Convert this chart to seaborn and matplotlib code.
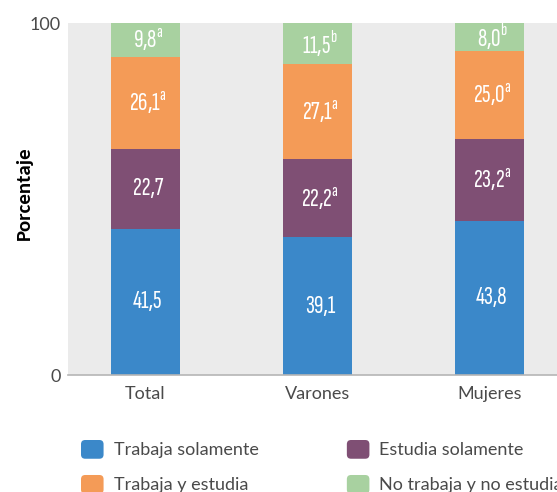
import numpy as np
import pandas as pd
import matplotlib
matplotlib.use('Agg')
import matplotlib.pyplot as plt
import seaborn as sns
from matplotlib.container import BarContainer
from matplotlib.legend_handler import HandlerBase
from matplotlib.patches import FancyBboxPatch

# datos
grupos = ['Total', 'Varones', 'Mujeres']
trabaja_solamente = [41.5, 39.1, 43.8]
estudia_solamente = [22.7, 22.2, 23.2]
trabaja_y_estudia = [26.1, 27.1, 25.0]
no_trabaja_no_estudia = [9.8, 11.5, 8.0]
sup_trabaja_sol = ['', '', '']
sup_estudia_sol = ['', 'a', 'a']
sup_trabaja_est = ['a', 'a', 'a']
sup_no_trabaja = ['a', 'b', 'b']

FUENTE_NUM = 'Sofia Sans Extra Condensed'


class HandlerRedondo(HandlerBase):
    # cuadrado con esquinas redondeadas para la leyenda
    def create_artists(self, legend, orig_handle, xdescent, ydescent,
                       width, height, fontsize, trans):
        color = orig_handle.patches[0].get_facecolor()
        p = FancyBboxPatch((-xdescent, -ydescent), width, height,
                           boxstyle='round,pad=0,rounding_size=3',
                           facecolor=color, edgecolor='none', transform=trans)
        return [p]


sns.set_theme(style='white')
plt.rcParams['font.family'] = ['Lato', 'DejaVu Sans']
plt.rcParams['mathtext.fontset'] = 'custom'
plt.rcParams['mathtext.rm'] = FUENTE_NUM

fig = plt.figure(figsize=(5.57, 4.92), dpi=100)
ax = fig.add_axes([68 / 557, 117 / 492, 489 / 557, 352 / 492])
ax.set_facecolor('#ebebeb')

series = [
    ('Trabaja solamente', trabaja_solamente, sup_trabaja_sol, '#3b88c9'),
    ('Estudia solamente', estudia_solamente, sup_estudia_sol, '#7f4f74'),
    ('Trabaja y estudia', trabaja_y_estudia, sup_trabaja_est, '#f49b57'),
    ('No trabaja y no estudia', no_trabaja_no_estudia, sup_no_trabaja, '#a8d1a0'),
]

base = np.zeros(len(grupos))
for nombre, valores, sups, color in series:
    df = pd.DataFrame({'grupo': grupos, 'valor': valores})
    sns.barplot(data=df, x='grupo', y='valor', bottom=base, color=color,
                width=0.4, saturation=1, linewidth=0, errorbar=None,
                label=nombre, ax=ax)
    for i, (v, s) in enumerate(zip(valores, sups)):
        txt = f'{v:.1f}'.replace('.', ',')
        if s:
            txt += r'$^{\mathrm{' + s + '}}$'
        ax.text(i + 0.015, base[i] + v / 2, txt, ha='center', va='center',
                color='white', fontsize=19, family=FUENTE_NUM)
    base = base + np.array(valores)

ax.set_xlim(-0.45, 2.393)
ax.set_ylim(0, 100)
ax.set_yticks([0, 100])
ax.set_xlabel('')
ax.set_ylabel('Porcentaje', fontsize=15, fontweight='bold', color='black',
              family=['Carlito', 'Lato', 'DejaVu Sans'])
ax.yaxis.set_label_coords((33 - 68) / 489, 0.5156)
ax.tick_params(axis='both', length=0, labelsize=13, labelcolor='#4a4a4a')
ax.tick_params(axis='x', pad=8)
ax.tick_params(axis='y', pad=5)
for s in ['left', 'top', 'right']:
    ax.spines[s].set_visible(False)
ax.spines['bottom'].set_color('#b5b5b5')
ax.spines['bottom'].set_linewidth(1.2)

handles, labels = ax.get_legend_handles_labels()
orden = [0, 2, 1, 3]
leg = ax.legend([handles[i] for i in orden], [labels[i] for i in orden],
                ncol=2, frameon=False, loc='upper left',
                bbox_to_anchor=(81 / 557, 1 - 440 / 492),
                bbox_transform=fig.transFigure, borderpad=0, borderaxespad=0,
                handlelength=1.25, handleheight=1.22, handletextpad=0.55,
                columnspacing=4.9, labelspacing=0.9,
                handler_map={BarContainer: HandlerRedondo()},
                prop={'size': 13})
for t in leg.get_texts():
    t.set_color('#4a4a4a')

fig.savefig('out.png', dpi=100)
